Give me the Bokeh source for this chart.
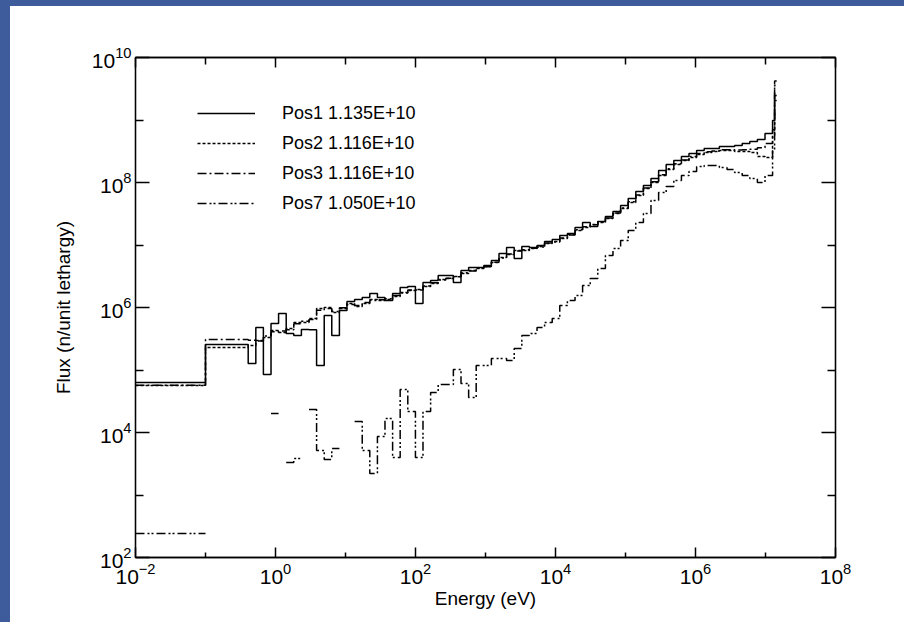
import numpy as np
from bokeh.plotting import figure
from bokeh.models import LogAxis, FixedTicker, Legend, LegendItem, Div
from bokeh.layouts import row, column
from bokeh.embed import file_html
from bokeh.resources import INLINE

# ---------------- data ----------------
# energy bin edges, log10(E / eV)
ENERGY_EDGES_LOG10 = [
    -2.0, -1.0,
    -0.390, -0.281, -0.173, -0.064, 0.044, 0.153, 0.261, 0.370, 0.479, 0.587,
    0.696, 0.804, 0.913, 1.021, 1.130, 1.239, 1.347, 1.456, 1.564, 1.673,
    1.781, 1.890, 1.999, 2.107, 2.216, 2.324, 2.433, 2.541, 2.650, 2.759,
    2.867, 2.976, 3.084, 3.193, 3.301, 3.410, 3.519, 3.627, 3.736, 3.844,
    3.953, 4.061, 4.170, 4.279, 4.387, 4.496, 4.604, 4.713, 4.821, 4.930,
    5.039, 5.147, 5.256, 5.364, 5.473, 5.581, 5.690, 5.799, 5.907, 6.016,
    6.124, 6.233, 6.341, 6.450, 6.559, 6.667, 6.776, 6.884, 6.993, 7.101,
    7.130, 7.160,
]

NAN = float("nan")

# flux per unit lethargy in each bin
POS1 = [
    6.3e4, 2.56e5,
    1.27e5, 4.79e5, 8.47e4, 5.55e5, 8.02e5, 3.84e5, 3.56e5, 4.45e5, 4.4e5, 1.18e5,
    7.45e5, 3.56e5, 8.95e5, 1.25e6, 1.34e6, 1.45e6, 1.67e6, 1.45e6, 1.29e6, 1.67e6,
    2.09e6, 2.17e6, 1.16e6, 2.51e6, 2.70e6, 3.25e6, 3.25e6, 2.51e6, 3.91e6, 4.37e6,
    4.37e6, 4.70e6, 5.65e6, 7.31e6, 9.12e6, 6.08e6, 9.46e6, 9.12e6, 9.82e6, 1.14e7,
    1.22e7, 1.42e7, 1.53e7, 1.91e7, 2.29e7, 1.98e7, 2.38e7, 2.86e7, 3.44e7, 4.29e7,
    5.55e7, 7.18e7, 8.95e7, 1.16e8, 1.56e8, 1.94e8, 2.25e8, 2.61e8, 2.91e8, 3.25e8,
    3.50e8, 3.50e8, 3.77e8, 3.77e8, 3.91e8, 4.21e8, 4.53e8, 4.88e8, 6.08e8,
    9.8e8, 2.47e9,
]
POS2 = [
    5.65e4, 2.29e5,
    2.47e5, 2.96e5, 3.31e5, 4.29e5, 3.98e5, 4.61e5, 5.75e5, 5.75e5, 6.67e5, 9.64e5,
    1.0e6, 8.32e5, 9.64e5, 1.16e6, 1.04e6, 1.16e6, 1.34e6, 1.29e6, 1.34e6, 1.50e6,
    1.74e6, 1.87e6, 1.94e6, 2.17e6, 2.42e6, 2.81e6, 2.91e6, 3.13e6, 3.50e6, 3.91e6,
    4.21e6, 4.53e6, 5.25e6, 6.31e6, 7.05e6, 8.17e6, 8.17e6, 8.79e6, 9.46e6, 1.06e7,
    1.14e7, 1.27e7, 1.47e7, 1.71e7, 1.91e7, 2.13e7, 2.29e7, 2.65e7, 3.19e7, 3.84e7,
    4.79e7, 6.19e7, 8.02e7, 1.0e8, 1.29e8, 1.61e8, 1.94e8, 2.25e8, 2.51e8, 2.81e8,
    3.02e8, 3.13e8, 3.25e8, 3.25e8, 3.13e8, 3.13e8, 3.02e8, 2.61e8, 2.51e8,
    5.65e8, 2.05e9,
]
POS3 = [
    5.7e4, 3.08e5,
    3.0e5, 2.9e5, 3.5e5, 4.1e5, 4.2e5, 4.4e5, 5.5e5, 6.0e5, 6.4e5, 9.0e5,
    9.6e5, 8.6e5, 9.9e5, 1.12e6, 1.08e6, 1.2e6, 1.3e6, 1.33e6, 1.38e6, 1.55e6,
    1.7e6, 1.9e6, 1.9e6, 2.2e6, 2.5e6, 2.75e6, 2.95e6, 3.1e6, 3.6e6, 3.85e6,
    4.3e6, 4.5e6, 5.3e6, 6.2e6, 7.2e6, 8.0e6, 8.4e6, 8.9e6, 9.3e6, 1.08e7,
    1.12e7, 1.3e7, 1.45e7, 1.75e7, 1.95e7, 2.1e7, 2.35e7, 2.7e7, 3.25e7, 3.9e7,
    4.9e7, 6.3e7, 8.2e7, 1.03e8, 1.33e8, 1.66e8, 2.0e8, 2.3e8, 2.6e8, 2.9e8,
    3.1e8, 3.2e8, 3.35e8, 3.35e8, 3.3e8, 3.35e8, 3.4e8, 3.6e8, 4.2e8,
    7.0e8, 4.2e9,
]
POS7 = [
    2.42e2, NAN,
    NAN, NAN, NAN, 2.01e4, NAN, 3.31e3, 3.84e3, NAN, 2.33e4, 5.15e3,
    3.70e3, 5.55e3, NAN, NAN, 1.50e4, 5.15e3, 2.21e3, 8.63e3, 1.67e4, 3.98e3,
    4.88e4, 2.17e4, 3.98e3, 2.17e4, 4.37e4, 5.86e4, 5.86e4, 1.02e5, 6.08e4, 3.63e4,
    1.18e5, 1.18e5, 1.53e5, 1.53e5, 1.42e5, 2.21e5, 3.56e5, 3.84e5, 4.79e5, 5.75e5,
    6.67e5, 1.08e6, 1.29e6, 1.56e6, 2.25e6, 2.91e6, 4.21e6, 6.79e6, 8.79e6, 1.18e7,
    1.71e7, 2.29e7, 3.19e7, 5.15e7, 6.92e7, 8.63e7, 1.08e8, 1.29e8, 1.5e8, 1.8e8,
    1.87e8, 1.87e8, 1.74e8, 1.61e8, 1.45e8, 1.29e8, 1.16e8, 1.0e8, 1.29e8,
    3.25e8, 3.56e9,
]

SERIES_NAMES = ["Pos1 1.135E+10", "Pos2 1.116E+10", "Pos3 1.116E+10", "Pos7 1.050E+10"]

X_TICKS = [1e-2, 1e0, 1e2, 1e4, 1e6, 1e8]
X_MINOR = [1e-1, 1e1, 1e3, 1e5, 1e7]
Y_TICKS = [1e2, 1e4, 1e6, 1e8, 1e10]
Y_MINOR = [1e3, 1e5, 1e7, 1e9]

# ---------------- build ----------------
edges = [10.0 ** v for v in ENERGY_EDGES_LOG10]


def steps(vals):
    xs, ys = [], []
    for i, v in enumerate(vals):
        xs += [edges[i], edges[i + 1]]
        ys += [v, v]
    return xs, ys


FONT = "Liberation Sans"
BLUE = "#3e5c9c"

p = figure(width=894, height=616, x_axis_type="log", y_axis_type="log",
           x_range=(1e-2, 1e8), y_range=(1e2, 1e10),
           output_backend="svg", toolbar_location=None,
           min_border_left=125, min_border_right=69, min_border_top=51, min_border_bottom=65)
p.grid.visible = False
p.outline_line_color = "black"
p.outline_line_width = 1.3
p.background_fill_color = "white"
p.border_fill_color = "white"

styles = [
    dict(line_dash="solid"),
    dict(line_dash="3 2"),
    dict(line_dash="9 3 2 3"),
    dict(line_dash="9 3 2 2 2 3"),
]
renderers = []
for vals, st in zip([POS1, POS2, POS3, POS7], styles):
    xs, ys = steps(vals)
    r = p.line(xs, ys, line_color="black", line_width=1.5, **st)
    renderers.append(r)

legend = Legend(items=[LegendItem(label=n, renderers=[r]) for n, r in zip(SERIES_NAMES, renderers)],
                location=(62, 339), glyph_width=58, glyph_height=30, label_height=30,
                label_standoff=27, spacing=0, padding=0, margin=0,
                border_line_color=None, background_fill_alpha=0,
                label_text_font=FONT, label_text_font_size="18px", label_text_color="black")
p.add_layout(legend)


def style_axis(ax, ticks, minor, tick_in, minor_in, labels=True):
    ax.ticker = FixedTicker(ticks=ticks, minor_ticks=minor)
    ax.axis_line_color = "black"
    ax.axis_line_width = 1.3
    ax.major_tick_line_color = "black"
    ax.major_tick_line_width = 1.5
    ax.minor_tick_line_color = "black"
    ax.minor_tick_line_width = 1.5
    ax.major_tick_in = tick_in
    ax.major_tick_out = 0
    ax.minor_tick_in = minor_in
    ax.minor_tick_out = 0
    ax.major_label_text_font = FONT
    ax.major_label_text_font_size = "21px"
    ax.major_label_text_color = "black"
    if not labels:
        ax.major_label_text_color = None
        ax.major_label_text_font_size = "0px"


xa = p.xaxis[0]
ya = p.yaxis[0]
style_axis(xa, X_TICKS, X_MINOR, 10, 5)
style_axis(ya, Y_TICKS, Y_MINOR, 14, 8)
xa.major_label_standoff = 5
ya.major_label_standoff = 4
xa.axis_label = "Energy (eV)"
ya.axis_label = "Flux (n/unit lethargy)"
for ax in (xa, ya):
    ax.axis_label_text_font = FONT
    ax.axis_label_text_font_size = "19px"
    ax.axis_label_text_font_style = "normal"
    ax.axis_label_text_color = "black"
xa.axis_label_standoff = 1
ya.axis_label_standoff = 15

top = LogAxis()
style_axis(top, X_TICKS, X_MINOR, 10, 7, labels=False)
p.add_layout(top, "above")
right = LogAxis()
style_axis(right, Y_TICKS, Y_MINOR, 14, 8, labels=False)
p.add_layout(right, "right")

left_strip = Div(width=10, height=622, margin=0, styles={"background-color": BLUE})
top_strip = Div(width=894, height=6, margin=0, styles={"background-color": BLUE})
layout = row(left_strip, column(top_strip, p, spacing=0), spacing=0)

open("out.html", "w").write(file_html(layout, INLINE))
